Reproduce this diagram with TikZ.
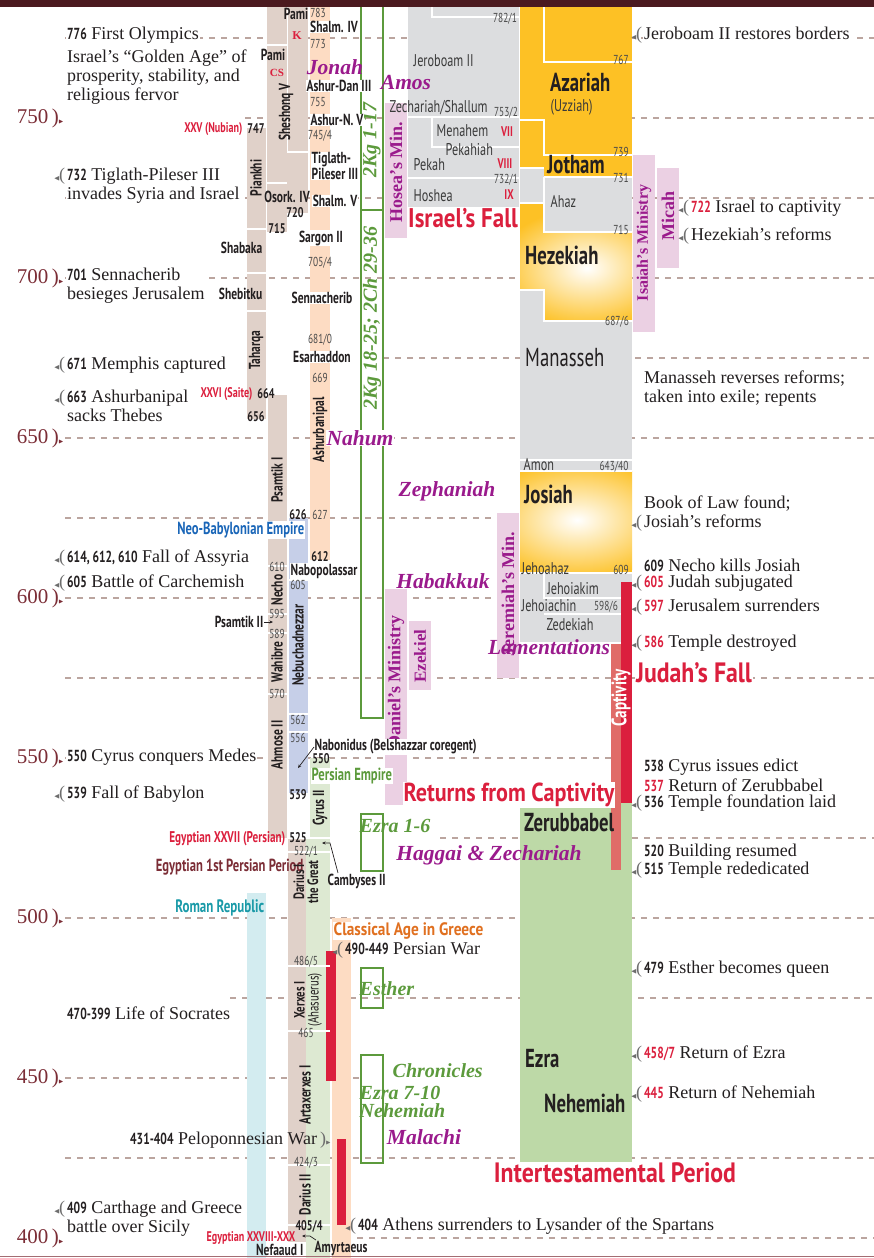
\documentclass[tikz,border=0pt]{standalone}
\usepackage{fontspec}
\usepackage{amssymb}
\usepackage{tikz}
\usetikzlibrary{arrows.meta,positioning}
\setmainfont{Liberation Serif}
\newfontfamily\cnd[FakeStretch=0.72]{PT Sans}
\newfontfamily\cnw[FakeStretch=0.85]{PT Sans}

\definecolor{topband}{HTML}{4B1A1F}
\definecolor{gridc}{HTML}{BBA59F}
\definecolor{axisc}{HTML}{7B2D36}
\definecolor{txt}{HTML}{231F20}
\definecolor{txtgray}{HTML}{3A3A3A}
\definecolor{yrgray}{HTML}{4A4A4A}
\definecolor{mkgray}{HTML}{6D6D6D}
\definecolor{egypt}{HTML}{E0D1C9}
\definecolor{assyria}{HTML}{FDDCC3}
\definecolor{babylon}{HTML}{C6CFE8}
\definecolor{persia}{HTML}{DDE9D2}
\definecolor{romec}{HTML}{D3ECF0}
\definecolor{israel}{HTML}{DCDDDF}
\definecolor{judah}{HTML}{FDC125}
\definecolor{restore}{HTML}{BDD9A7}
\definecolor{pinkbox}{HTML}{EBD0E3}
\definecolor{purp}{HTML}{9A1A8C}
\definecolor{refgreen}{HTML}{5C9A3C}
\definecolor{hired}{HTML}{DB1F3D}
\definecolor{salmon}{HTML}{E06C68}
\definecolor{tealc}{HTML}{1A9AA8}
\definecolor{nbblue}{HTML}{1A66B8}
\definecolor{grkorange}{HTML}{E07020}

\newcommand{\evf}{\fontsize{18}{19}\selectfont}
\newcommand{\nb}[1]{{\cnd\bfseries\fontsize{16}{19}\selectfont #1}}
\newcommand{\nr}[1]{{\cnd\bfseries\fontsize{16}{19}\selectfont\color{hired}#1}}
\newcommand{\mk}{\llap{\textcolor{mkgray}{{\fontsize{7}{7}\selectfont$\blacktriangleleft$}\kern-1pt(}\kern2pt}}
\newcommand{\axm}[1]{\textcolor{#1}{)\kern-0.5pt{\fontsize{6}{6}\selectfont$\blacktriangleright$}}}

\tikzset{
  evt/.style={anchor=west, align=left, font=\evf, fill=white, inner sep=1pt, text=txt},
  lbl/.style={font=\cnd\bfseries\fontsize{16}{14}\selectfont, inner sep=0.5pt, text=txt},
  lbw/.style={lbl, fill=white},
  nme/.style={font=\cnd\fontsize{17}{17}\selectfont, inner sep=0.5pt, text=txtgray},
  yrs/.style={font=\cnd\fontsize{13}{13}\selectfont, inner sep=0.3pt, text=yrgray},
  yrb/.style={font=\cnd\bfseries\fontsize{14}{14}\selectfont, inner sep=0.3pt, text=txt},
  king/.style={font=\cnd\bfseries\fontsize{26}{26}\selectfont, inner sep=0, text=txt, anchor=west},
  kingr/.style={font=\cnd\fontsize{26}{26}\selectfont, inner sep=0, text=txt, anchor=west},
  proph/.style={font=\bfseries\itshape\fontsize{21.5}{21.5}\selectfont, text=purp, inner sep=0.5pt},
  pinkmin/.style={fill=pinkbox},
  mintxt/.style={font=\bfseries\fontsize{18}{18}\selectfont, text=purp, rotate=90, inner sep=0},
  scrip/.style={font=\bfseries\itshape\fontsize{20}{20}\selectfont, text=refgreen, inner sep=0.5pt},
  scripbox/.style={draw=refgreen, line width=1.1pt},
  head/.style={font=\cnw\bfseries\fontsize{28}{28}\selectfont, text=hired, inner sep=1pt, fill=white},
  dyn/.style={font=\cnd\bfseries\fontsize{14}{14}\selectfont, text=hired, inner sep=0.5pt},
  empire/.style={font=\cnd\bfseries\fontsize{17.5}{17}\selectfont, inner sep=0.5pt, fill=white},
  gridline/.style={draw=gridc, line width=1.1pt, dash pattern=on 6pt off 6pt},
  sep/.style={draw=white, line width=1.6pt},
  axl/.style={font=\fontsize{21}{21}\selectfont, text=axisc, anchor=east, inner sep=0},
  lead/.style={draw=txt, line width=0.7pt, -{Stealth[length=3.5pt,width=3pt]}},
}

\begin{document}
\begin{tikzpicture}[x=1pt,y=-1pt]
\useasboundingbox (0,0) rectangle (874,1258);

% year grid
\foreach \ya/\xa/\xb in {38/65/874,118/245/874,198/65/874,278/65/874,358/383/874,438/65/874,518/65/520,598/65/520,678/65/874,758/65/612,838/440/874,918/65/874,998/230/874,1078/65/360,1158/65/874,1238/345/874}
  \draw[gridline] (\xa,\ya) -- (\xb,\ya);

% nations' bars
\fill[egypt] (247,128) rectangle (266,419);
\fill[egypt] (267,0) rectangle (287,232);
\fill[egypt] (288,0) rectangle (308,213);
\fill[egypt] (267,152) rectangle (308,213);
\fill[egypt] (268,395) rectangle (287,838);
\fill[egypt] (288,838) rectangle (306,1242);
\fill[romec] (247,893) rectangle (266,1258);
\fill[assyria] (310,0) rectangle (330,560);
\fill[babylon] (289,518) rectangle (308,793);
\fill[persia] (310,758) rectangle (330,1258);
\fill[persia] (306,838) rectangle (310,1258);
\fill[assyria] (332,918) rectangle (351,1258);
\fill[hired] (326,951) rectangle (336,1081);
\fill[hired] (337,1139) rectangle (346,1225);

\draw[sep] (247,229) -- (266,229);
\draw[sep] (247,273) -- (266,273);
\draw[sep] (247,311) -- (266,311);
\draw[sep] (267,45) -- (287,45);
\draw[sep] (287.5,0) -- (287.5,152) -- (308,152);
\draw[sep] (267,183) -- (287,183);
\draw[sep] (268,566) -- (287,566);
\draw[sep] (268,614) -- (287,614);
\draw[sep] (268,633) -- (287,633);
\draw[sep] (268,694) -- (287,694);
\draw[sep] (289,580) -- (308,580);
\draw[sep] (289,714) -- (308,714);
\draw[sep] (289,732) -- (308,732);
\foreach \ys in {838,852,966,1031,1165,1225}
  \draw[sep] (288,\ys) -- (330,\ys);

% Israel
\fill[israel] (408,0) rectangle (519,208);
\draw[sep] (432,0) -- (432,17) -- (519,17);
\draw[sep] (408,117) -- (519,117);
\draw[sep] (432,117) -- (432,147) -- (519,147);
\draw[sep] (408,178) -- (519,178);

% Judah
\fill[judah] (520,0) rectangle (632,168);
\fill[israel] (520,168) rectangle (632,232);
\fill[judah] (544,155) rectangle (632,177);
\fill[israel] (520,290) rectangle (632,471);
\begin{scope}
  \clip (520,203) -- (544,203) -- (544,232) -- (632,232) -- (632,321) -- (544,321) -- (544,290) -- (520,290) -- cycle;
  \fill[judah] (520,203) rectangle (632,321);
  \shade[inner color=white, outer color=judah] (587,268) ellipse [x radius=90, y radius=60];
\end{scope}
\begin{scope}
  \clip (520,471) rectangle (632,572);
  \fill[judah] (520,471) rectangle (632,572);
  \shade[inner color=white, outer color=judah] (577,520) ellipse [x radius=100, y radius=60];
\end{scope}
\fill[israel] (520,572) rectangle (632,642);
\fill[restore] (520,803) rectangle (632,1163);
\draw[sep] (544,0) -- (544,62) -- (632,62);
\draw[sep] (520,120) -- (544,120) -- (544,155) -- (632,155);
\draw[sep] (520,168) -- (544,168);
\draw[sep] (544,177) -- (632,177);
\draw[sep] (544,177) -- (544,232) -- (632,232);
\draw[sep] (520,203) -- (544,203);
\draw[sep] (520,290) -- (544,290) -- (544,321) -- (632,321);
\draw[sep] (520,460) -- (632,460);
\draw[sep] (520,471) -- (632,471);
\draw[sep] (520,573) -- (632,573);
\draw[sep] (544,573) -- (544,598) -- (621,598);
\draw[sep] (544,614) -- (621,614);
\fill[hired] (621,582) rectangle (632,803);
\fill[salmon] (611,644) rectangle (621,870);

% ministries and scripture boxes
\fill[pinkmin] (385,103) rectangle (407,238);
\fill[pinkmin] (633,155) rectangle (655,332);
\fill[pinkmin] (657,168) rectangle (679,268);
\fill[pinkmin] (497,513) rectangle (519,678);
\fill[pinkmin] (385,589) rectangle (407,805);
\fill[pinkmin] (409,621) rectangle (431,690);
\draw[scripbox] (361,-5) rectangle (383,210);
\draw[scripbox] (361,210) rectangle (383,718);
\draw[scripbox] (361,814) rectangle (383,871);
\draw[scripbox] (361,968) rectangle (383,1008);
\draw[scripbox] (361,1055) rectangle (383,1163);

\node[mintxt] (hosea) at (396,172) {Hosea’s Min.};
\node[mintxt, font=\bfseries\fontsize{16}{16}\selectfont] (isaiah) at (644,243) {Isaiah’s Ministry};
\node[mintxt] (micah) at (668,216) {Micah};
\node[mintxt] (jerem) at (508,594) {Jeremiah’s Min.};
\node[mintxt] (daniel) at (396,682) {Daniel’s Ministry};
\node[mintxt, font=\bfseries\fontsize{17}{17}\selectfont] (ezek) at (420,656) {Ezekiel};
\node[scrip, rotate=90] (kg1) at (372,140) {2Kg 1-17};
\node[scrip, rotate=90] (kg18) at (372,318) {2Kg 18-25; 2Ch 29-36};
\node[scrip, anchor=west] (ezra16) at (359,826) {Ezra 1-6};
\node[scrip, anchor=west] (esther) at (359,989) {Esther};
\node[scrip, anchor=west] (chron) at (392,1071) {Chronicles};
\node[scrip, anchor=west] (ezra710) at (359,1093) {Ezra 7-10};
\node[scrip, anchor=west] (nehref) at (359,1111) {Nehemiah};

% prophets
\node[proph] (jonah) at (335,67) {Jonah};
\node[proph] (amos) at (406,83) {Amos};
\node[proph, fill=white] (nahum) at (360,438) {Nahum};
\node[proph] (zeph) at (447,491) {Zephaniah};
\node[proph] (habak) at (443,581) {Habakkuk};
\node[proph] (lament) at (549,647) {Lamentations};
\node[proph] (haggai) at (489,855) {Haggai \& Zechariah};
\node[proph] (malachi) at (424,1137) {Malachi};

% Egypt labels
\node[lbl] (pami1) at (296,14) {Pami};
\node[font=\bfseries\fontsize{12}{12}\selectfont, text=hired, inner sep=0] (kdyn) at (297,36) {K};
\node[lbl] (pami2) at (273,55) {Pami};
\node[font=\bfseries\fontsize{11}{11}\selectfont, text=hired, inner sep=0] (csdyn) at (277,73) {CS};
\node[lbl, rotate=90] (sheshonq) at (286,112) {Sheshonq V};
\node[lbl] (osork) at (287,197) {Osork. IV};
\node[yrb] (y720) at (295,213) {720};
\node[yrb] (y715) at (277,229) {715};
\node[dyn, anchor=east] (nubian) at (243,129) {XXV (Nubian)};
\node[yrb] (y747) at (256,129) {747};
\node[lbl, rotate=90] (piankhi) at (256,178) {Piankhi};
\node[lbl, anchor=east] (shabaka) at (263,248) {Shabaka};
\node[lbl, anchor=east] (shebitku) at (263,294) {Shebitku};
\node[lbl, rotate=90] (taharqa) at (256,350) {Taharqa};
\node[dyn, anchor=east] (saite) at (253,394) {XXVI (Saite)};
\node[yrb] (y664) at (266,394) {664};
\node[yrb] (y656) at (256,417) {656};
\node[lbl, rotate=90] (psam1) at (277,480) {Psamtik I};
\node[yrb] (y626) at (298,515) {626};
\node[empire, text=nbblue, anchor=east] (neobab) at (305,530) {Neo-Babylonian Empire};
\node[yrs] (y610) at (277,567) {610};
\node[lbl, rotate=90] (necho) at (277,590) {Necho};
\node[yrs] (y595) at (277,614) {595};
\node[lbl, anchor=east] (psam2) at (264,622) {Psamtik II};
\coordinate (psam2tip) at (273,622);
\draw[lead] (psam2.east) -- (psam2tip);
\node[yrs] (y589) at (277,634) {589};
\node[lbl, rotate=90] (wahibre) at (277,662) {Wahibre};
\node[yrs] (y570) at (277,694) {570};
\node[lbl, rotate=90] (ahmose) at (277,745) {Ahmose II};
\node[dyn, font=\cnd\bfseries\fontsize{15.5}{15}\selectfont, anchor=east] (egy27) at (286,839) {Egyptian XXVII (Persian)};
\node[yrb] (y525) at (298,838) {525};
\node[empire, text=axisc, fill=none, anchor=east] (egyper) at (304,867) {Egyptian 1st Persian Period};
\node[empire, text=tealc, fill=none, font=\cnd\bfseries\fontsize{18}{18}\selectfont, anchor=east] (rome) at (265,908) {Roman Republic};
\node[lbl, anchor=east] (nefaaud) at (304,1250) {Nefaaud I};

% Assyria, Babylon and Persia labels
\node[yrs] (y783) at (318,13) {783};
\node[lbw] (shalm4) at (334,27) {Shalm. IV};
\node[yrs] (y773) at (318,44) {773};
\node[lbw] (ashdan) at (339,86) {Ashur-Dan III};
\node[yrs] (y755) at (318,102) {755};
\node[lbw] (ashnir) at (337,120) {Ashur-N. V};
\node[yrs] (y745) at (320,136) {745/4};
\node[lbw, align=left, anchor=west] (tiglath) at (311,166) {Tiglath-\\Pileser III};
\node[lbw] (shalm5) at (335,201) {Shalm. V};
\node[lbw] (sargon) at (321,238) {Sargon II};
\node[yrs] (y705) at (320,263) {705/4};
\node[lbw] (sennach) at (322,298) {Sennacherib};
\node[yrs] (y681) at (320,340) {681/0};
\node[lbw] (esarh) at (322,357) {Esarhaddon};
\node[yrs] (y669) at (320,378) {669};
\node[lbl, rotate=90] (ashurb) at (320,430) {Ashurbanipal};
\node[yrs] (y627) at (320,515) {627};
\node[yrb] (y612) at (320,557) {612};
\node[lbw, anchor=west] (nabopol) at (290,571) {Nabopolassar};
\node[yrs] (y605) at (298,585) {605};
\node[lbl, rotate=90] (nebuch) at (298,645) {Nebuchadnezzar};
\node[yrs] (y562) at (298,720) {562};
\node[yrs] (y556) at (298,738) {556};
\node[lbw, anchor=west] (nabon) at (314,747) {Nabonidus (Belshazzar coregent)};
\coordinate (nabtip) at (298,768);
\draw[lead] (nabon.west) -- (nabtip);
\node[yrb] (y550) at (321,759) {550};
\node[empire, text=refgreen, anchor=west] (persemp) at (311,776) {Persian Empire};
\node[yrb] (y539) at (298,795) {539};
\node[lbl, rotate=90] (cyrus) at (320,808) {Cyrus II};
\node[yrs] (y522) at (306,852) {522/1};
\node[lbl, anchor=west] (camb) at (327,881) {Cambyses II};
\coordinate (cambbend) at (330,843);
\coordinate (cambtip) at (322,843);
\draw[lead] ([xshift=11pt]camb.north west) -- (cambbend) -- (cambtip);
\node[lbl, rotate=90, align=center, font=\cnd\bfseries\fontsize{15}{14}\selectfont] (darius1) at (306,882) {Darius I\\the Great};
\node[yrs] (y486) at (306,962) {486/5};
\node[lbl, rotate=90, align=center, font=\cnd\bfseries\fontsize{15}{14}\selectfont] (xerxes) at (308,1000) {Xerxes I\\\mdseries(Ahasuerus)};
\node[yrs] (y465) at (306,1033) {465};
\node[lbl, rotate=90] (artax) at (305,1095) {Artaxerxes I};
\node[yrs] (y424) at (306,1163) {424/3};
\node[lbl, rotate=90] (darius2) at (305,1195) {Darius II};
\node[yrb] (y405) at (309,1226) {405/4};
\node[lbl, anchor=west] (amyr) at (314,1248) {Amyrtaeus};
\coordinate (amyrbend) at (310,1236);
\coordinate (amyrtip) at (302,1236);
\draw[lead] ([xshift=2pt]amyr.north west) -- (amyrbend) -- (amyrtip);
\node[empire, text=grkorange, font=\cnw\bfseries\fontsize{18}{18}\selectfont, anchor=west] (greece) at (333,931) {Classical Age in Greece};

% Israel labels
\node[yrs] (y782) at (505,19) {782/1};
\node[nme, anchor=west] (jerob) at (413,61) {Jeroboam II};
\node[nme, anchor=west] (zech) at (389,108) {Zechariah/Shallum};
\node[yrs] (y753) at (506,113) {753/2};
\node[nme, anchor=west] (menah) at (436,131) {Menahem};
\node[dyn] (r7) at (507,132) {VII};
\node[nme, anchor=west] (pekahiah) at (445,150) {Pekahiah};
\node[nme, anchor=west] (pekah) at (413,165) {Pekah};
\node[dyn] (r8) at (505,164) {VIII};
\node[yrs] (y732) at (506,180) {732/1};
\node[nme, anchor=west] (hoshea) at (413,196) {Hoshea};
\node[dyn] (r9) at (509,195) {IX};
\node[head, font=\cnw\bfseries\fontsize{27}{27}\selectfont] (isrfall) at (463,218) {Israel’s Fall};

% Judah labels
\node[yrs] (y767) at (621,60) {767};
\node[king] (azariah) at (550,82) {Azariah};
\node[nme, anchor=west] (uzziah) at (550,107) {(Uzziah)};
\node[yrs] (y739) at (621,152) {739};
\node[king] (jotham) at (547,165) {Jotham};
\node[yrs] (y731) at (621,178) {731};
\node[nme, anchor=west] (ahaz) at (550,202) {Ahaz};
\node[yrs] (y715j) at (621,230) {715};
\node[king] (hezek) at (525,255) {Hezekiah};
\node[yrs] (y687) at (617,322) {687/6};
\node[kingr] (manass) at (525,358) {Manasseh};
\node[nme, anchor=west] (amon) at (523,465) {Amon};
\node[yrs] (y643) at (614,467) {643/40};
\node[king] (josiah) at (524,494) {Josiah};
\node[nme, anchor=west] (jehoahaz) at (521,569) {Jehoahaz};
\node[yrs] (y609) at (621,570) {609};
\node[nme] (jehoiakim) at (573,589) {Jehoiakim};
\node[nme, anchor=west] (jehoiachin) at (521,606) {Jehoiachin};
\node[yrs] (y598) at (606,607) {598/6};
\node[nme] (zedek) at (570,625) {Zedekiah};
\node[font=\cnd\bfseries\fontsize{21}{21}\selectfont, text=white, rotate=90, inner sep=0] (captiv) at (621,698) {Captivity};
\node[king] (zerub) at (524,823) {Zerubbabel};
\node[king] (ezra) at (525,1058) {Ezra};
\node[king] (nehem) at (544,1103) {Nehemiah};

% headings in red
\node[head] (judfall) at (694,673) {Judah’s Fall};
\node[head, font=\cnw\bfseries\fontsize{26}{26}\selectfont] (returns) at (509,795) {Returns from Captivity};
\node[head] (intert) at (615,1173) {Intertestamental Period};

% year axis
\foreach \yv/\yp in {750/118,700/278,650/438,600/598,550/758,500/918,450/1078,400/1238}
  \node[axl] (ax\yv) at (64,\yp) {\yv\,\axm{axisc}};

% events, left
\node[evt] (e776) at (66,35) {\nb{776} First Olympics};
\node[evt] (egold) at (66,77) {Israel’s “Golden Age” of\\prosperity, stability, and\\religious fervor};
\node[evt] (e732) at (66,185.5) {\mk\nb{732} Tiglath-Pileser III\\invades Syria and Israel};
\node[evt] (e701) at (66,286) {\nb{701} Sennacherib\\besieges Jerusalem};
\node[evt] (e671) at (66,365) {\mk\nb{671} Memphis captured};
\node[evt] (e663) at (66,405.5) {\mk\nb{663} Ashurbanipal\\sacks Thebes};
\node[evt] (e614) at (66,558) {\mk\nb{614, 612, 610} Fall of Assyria};
\node[evt] (e605) at (66,583) {\mk\nb{605} Battle of Carchemish};
\node[evt] (e550) at (66,757) {\nb{550} Cyrus conquers Medes};
\node[evt] (e539) at (66,794) {\mk\nb{539} Fall of Babylon};
\node[evt] (e470) at (66,1013) {\nb{470-399} Life of Socrates};
\node[evt, fill=none] (e431) at (129,1140) {\nb{431-404} Peloponnesian War\,\axm{mkgray}};
\node[evt, fill=none] (e409) at (66,1218.5) {\mk\nb{409} Carthage and Greece\\battle over Sicily};
\node[dyn] (egy28) at (251,1238) {Egyptian XXVIII-XXX};

% events, right
\node[evt] (j782) at (643,35) {\mk Jeroboam II restores borders};
\node[evt] (j722) at (690,208) {\mk\nr{722} Israel to captivity};
\node[evt] (jhez) at (690,236) {\mk Hezekiah’s reforms};
\node[evt] (jman) at (643,389) {Manasseh reverses reforms;\\taken into exile; repents};
\node[evt] (jbook) at (643,513.5) {Book of Law found;\\\mk Josiah’s reforms};
\node[evt] (j609) at (643,565) {\nb{609} Necho kills Josiah};
\node[evt] (j605) at (643,583) {\mk\nr{605} Judah subjugated};
\node[evt] (j597) at (643,607) {\mk\nr{597} Jerusalem surrenders};
\node[evt] (j586) at (643,643) {\mk\nr{586} Temple destroyed};
\node[evt] (j538) at (643,767) {\nb{538} Cyrus issues edict};
\node[evt] (j537) at (643,785) {\nr{537} Return of Zerubbabel};
\node[evt] (j536) at (643,803) {\mk\nb{536} Temple foundation laid};
\node[evt] (j520) at (643,852) {\nb{520} Building resumed};
\node[evt] (j515) at (643,870) {\mk\nb{515} Temple rededicated};
\node[evt] (j479) at (643,969) {\mk\nb{479} Esther becomes queen};
\node[evt] (j458) at (643,1054) {\mk\nr{458/7} Return of Ezra};
\node[evt] (j445) at (643,1094) {\mk\nr{445} Return of Nehemiah};
\node[evt, fill=none] (j490) at (344,950) {\mk\nb{490-449} Persian War};
\node[evt, fill=none] (j404) at (357,1226) {\mk\nb{404} Athens surrenders to Lysander of the Spartans};

% frame
\fill[topband] (0,0) rectangle (874,7);
\draw[axisc!70, line width=0.8pt] (0,1256) -- (874,1256);
\end{tikzpicture}
\end{document}
